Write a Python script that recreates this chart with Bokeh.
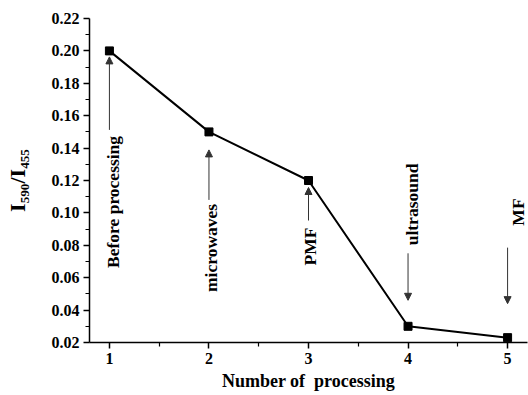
import math
from bokeh.plotting import figure
from bokeh.models import FixedTicker, NumeralTickFormatter, Arrow, NormalHead, Label, Range1d
from bokeh.embed import file_html
from bokeh.resources import INLINE

# ---- data ----
processing = [1, 2, 3, 4, 5]
ratio = [0.200, 0.150, 0.120, 0.030, 0.023]
methods = ["Before processing", "microwaves", "PMF", "ultrasound", "MF"]
x_ticks = [1, 2, 3, 4, 5]
x_minor = [1.5, 2.5, 3.5, 4.5]
y_ticks = [0.02, 0.04, 0.06, 0.08, 0.10, 0.12, 0.14, 0.16, 0.18, 0.20, 0.22]
y_minor = [0.03, 0.05, 0.07, 0.09, 0.11, 0.13, 0.15, 0.17, 0.19, 0.21]

# ---- layout ----
W, H = 528, 395
B_LEFT, B_RIGHT, B_TOP, B_BOTTOM = 89, 1, 18, 53
X0, X1 = 0.8, 5.2
Y0, Y1 = 0.02, 0.22
FW = W - B_LEFT - B_RIGHT
FH = H - B_TOP - B_BOTTOM
def px_y(px):
    return px / FH * (Y1 - Y0)
def px_x(px):
    return px / FW * (X1 - X0)

FONT = "Liberation Serif"

p = figure(width=W, height=H, x_range=Range1d(X0, X1), y_range=Range1d(Y0, Y1),
           output_backend="svg", toolbar_location=None,
           min_border_left=B_LEFT, min_border_right=B_RIGHT,
           min_border_top=B_TOP, min_border_bottom=B_BOTTOM)
p.outline_line_color = None
p.xgrid.visible = False
p.ygrid.visible = False
p.background_fill_color = "white"
p.border_fill_color = "white"

p.xaxis.ticker = FixedTicker(ticks=x_ticks, minor_ticks=x_minor)
p.yaxis.ticker = FixedTicker(ticks=y_ticks, minor_ticks=y_minor)
p.yaxis.formatter = NumeralTickFormatter(format="0.00")

for ax in (p.xaxis[0], p.yaxis[0]):
    ax.axis_line_color = "black"
    ax.axis_line_width = 1.5
    ax.major_tick_line_color = "black"
    ax.major_tick_line_width = 1.5
    ax.minor_tick_line_color = "black"
    ax.minor_tick_line_width = 1.2
    ax.major_tick_in = 0
    ax.major_tick_out = 6
    ax.minor_tick_in = 0
    ax.minor_tick_out = 4
    ax.major_label_text_font = FONT
    ax.major_label_text_font_style = "bold"
    ax.major_label_text_font_size = "16px"
    ax.major_label_text_color = "black"
    ax.axis_label_text_font = FONT
    ax.axis_label_text_font_style = "bold"
    ax.axis_label_text_color = "black"

p.xaxis.major_label_standoff = 4
p.yaxis.major_label_standoff = 4
p.xaxis.axis_label = "Number of\u00a0 processing"
p.xaxis.axis_label_text_font_size = "18px"
p.xaxis.axis_label_standoff = 4
p.yaxis.axis_label = "I\u2085\u2089\u2080/I\u2084\u2085\u2085"
p.yaxis.axis_label_text_font_size = "22px"
p.yaxis.axis_label_standoff = 19

p.line(processing, ratio, line_color="black", line_width=2)
p.scatter(processing, ratio, marker="square", size=8, fill_color="black", line_color="black")

# annotation layout: (direction, tip gap px, tail px, text anchor px, text x offset px)
ann_layout = [
    ("up", 6, 79, 85, 4),
    ("up", 18, 68, 72, 2),
    ("up", 7, 40, 47, 1),
    ("down", 26, 73, 81, 4),
    ("down", 34, 90, 112, 10),
]
AC = "#333333"
for xi, yi, txt, (d, gap, tail, anchor, xo) in zip(processing, ratio, methods, ann_layout):
    if d == "up":
        ys, ye = yi - px_y(tail), yi - px_y(gap)
        ty, align = yi - px_y(anchor), "right"
    else:
        ys, ye = yi + px_y(tail), yi + px_y(gap)
        ty, align = yi + px_y(anchor), "left"
    p.add_layout(Arrow(end=NormalHead(size=7, fill_color=AC, line_color=AC, line_width=1),
                       x_start=xi, y_start=ys, x_end=xi, y_end=ye,
                       line_color=AC, line_width=1))
    p.add_layout(Label(x=xi + px_x(xo), y=ty, text=txt, angle=math.pi / 2,
                       text_align=align, text_baseline="middle",
                       text_font=FONT, text_font_style="bold",
                       text_font_size="17.5px", text_color="black"))

open("out.html", "w").write(file_html(p, INLINE))
